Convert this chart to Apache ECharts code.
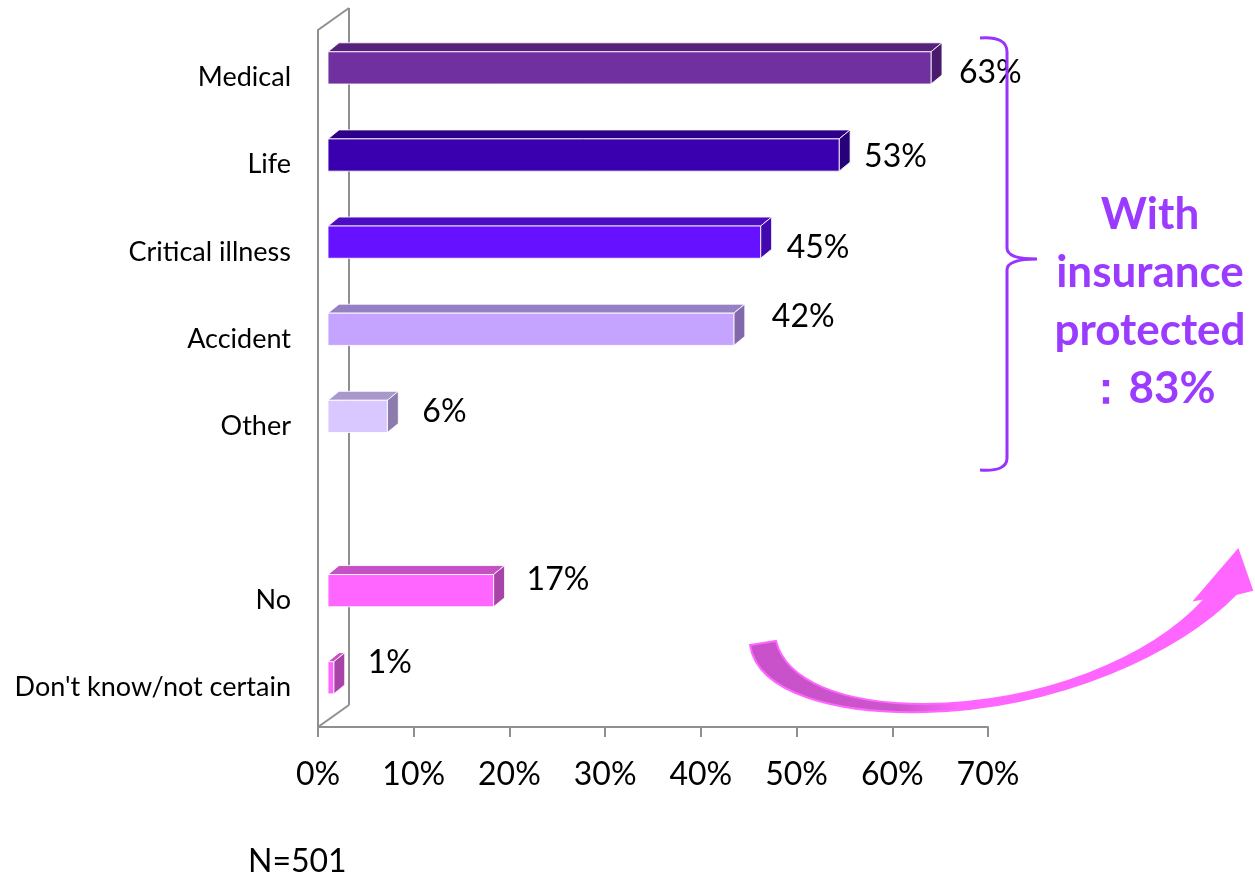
<!DOCTYPE html>
<html>
<head>
<meta charset="utf-8">
<script src="https://cdn.jsdelivr.net/npm/echarts@6/dist/echarts.min.js"></script>
<style>
  html, body { margin: 0; padding: 0; background: #fff; }
  #main { width: 1255px; height: 880px; }
</style>
</head>
<body>
<div id="main"></div>
<script>
// data
var categories = ['Medical', 'Life', 'Critical illness', 'Accident', 'Other', '', 'No', "Don't know/not certain"]
var shares = [63, 53.4, 45.2, 42.4, 6.2, null, 17.3, 0.6]
var shareLabels = ['63%', '53%', '45%', '42%', '6%', '', '17%', '1%']
var xMin = 0
var xMax = 70
var xStep = 10
var sampleNote = 'N=501'
var calloutLines = ['With', 'insurance', 'protected', '：83%']

// styles
var faceColors = ['#7030A0', '#3A00B0', '#6611FF', '#C4A4FF', '#D9C8FF', null, '#FF66FF', '#FF66FF']
var topColors = ['#55217D', '#2D008A', '#4C0CC4', '#9580C4', '#A898CC', null, '#C452C4', '#C452C4']
var sideColors = ['#4A1A6E', '#28007A', '#4208AE', '#8068AA', '#8C7CAE', null, '#A843A8', '#A843A8']
// label nudges (x gap after bar, y relative to slot centre), like the Excel layout
var labelGap = [17, 14, 15, 27, 24, 0, 22, 23]
var labelLift = [-1, -4, 0, -18, -10, 0, -17, -21]

var FONT = 'Lato, "Open Sans", sans-serif'
var gridLeft = 318
var gridTop = 30
var gridRight = 267
var gridBottom = 153
var axisY = 880 - gridBottom
var wallDx = 31
var wallDy = -22
var barDx = 11
var barDy = -9
var gray = '#8f8f8f'

var chart = echarts.init(document.getElementById('main'))

var barData = []
shares.forEach(function (v, i) {
  if (v !== null) barData.push([v, i])
})

function renderBar (params, api) {
  var cat = api.value(1)
  var v = api.value(0)
  var p0 = api.coord([0, cat])
  var p1 = api.coord([v, cat])
  var slot = api.size([0, 1])[1]
  var h = slot * 0.37
  var x0 = p0[0] + 10
  var x1 = p1[0] + 10
  var yT = p0[1] - slot * 0.25
  var yB = yT + h
  var edge = { stroke: 'rgba(255,255,255,0.85)', lineWidth: 1 }
  return {
    type: 'group',
    children: [
      {
        type: 'polygon',
        shape: { points: [[x0, yT], [x1, yT], [x1 + barDx, yT + barDy], [x0 + barDx, yT + barDy]] },
        style: Object.assign({ fill: topColors[cat] }, edge)
      },
      {
        type: 'polygon',
        shape: { points: [[x1, yT], [x1 + barDx, yT + barDy], [x1 + barDx, yB + barDy], [x1, yB]] },
        style: Object.assign({ fill: sideColors[cat] }, edge)
      },
      {
        type: 'rect',
        shape: { x: x0, y: yT, width: x1 - x0, height: h },
        style: Object.assign({ fill: faceColors[cat] }, edge)
      },
      {
        type: 'text',
        style: {
          x: x1 + barDx + labelGap[cat],
          y: p0[1] + labelLift[cat],
          text: shareLabels[cat],
          fill: '#000',
          font: '32px ' + FONT,
          verticalAlign: 'middle'
        }
      }
    ]
  }
}

// brace and curved arrow (annotation shapes, drawn in pixels)
function renderDecor () {
  return {
    type: 'group',
    children: [
      {
        type: 'path',
        shape: {
          pathData: 'M980,38 Q1007,36 1007,52 L1007,248 Q1007,259 1037,259 Q1007,259 1007,270 L1007,458 Q1007,472 980,470'
        },
        style: { fill: null, stroke: '#9933FF', lineWidth: 3 }
      },
      {
        type: 'path',
        shape: {
          pathData: 'M750,645 C758,695 840,714 925,712 C1060,708 1180,652 1236,594 L1252,590 L1238,550 L1195,600 L1206,598 C1150,660 1040,703 925,704 C840,704 786,680 776,641 Z'
        },
        style: {
          stroke: '#FF66FF',
          lineWidth: 2,
          fill: {
            type: 'linear', x: 0, y: 0, x2: 1, y2: 0,
            colorStops: [
              { offset: 0, color: '#C850C8' },
              { offset: 0.3, color: '#CC55CC' },
              { offset: 0.42, color: '#FF66FF' },
              { offset: 1, color: '#FF66FF' }
            ]
          }
        }
      }
    ]
  }
}

chart.setOption({
  animation: false,
  backgroundColor: '#fff',
  grid: { left: gridLeft, top: gridTop, right: gridRight, bottom: gridBottom },
  xAxis: {
    type: 'value',
    min: xMin,
    max: xMax,
    interval: xStep,
    splitLine: { show: false },
    axisLine: { show: true, lineStyle: { color: gray, width: 2 } },
    axisTick: { show: true, length: 10, lineStyle: { color: gray, width: 2 } },
    axisLabel: {
      formatter: '{value}%',
      margin: 32,
      color: '#000',
      fontSize: 32,
      fontFamily: FONT
    }
  },
  yAxis: {
    type: 'category',
    data: categories,
    inverse: true,
    axisLine: { show: true, lineStyle: { color: gray, width: 2 } },
    axisTick: { show: false },
    axisLabel: {
      margin: 27,
      formatter: '{c|{value}}',
      rich: {
        c: {
          color: '#000',
          fontSize: 27,
          fontFamily: FONT,
          padding: [8, 0, 0, 0]
        }
      }
    }
  },
  series: [
    {
      type: 'custom',
      renderItem: renderBar,
      encode: { x: 0, y: 1 },
      data: barData,
      z: 5
    },
    {
      type: 'custom',
      renderItem: renderDecor,
      data: [[0, 0]],
      silent: true,
      z: 6
    }
  ],
  graphic: [
    // 3D wall edges
    {
      type: 'line', z: 1, silent: true,
      shape: { x1: gridLeft + wallDx, y1: gridTop + wallDy, x2: gridLeft + wallDx, y2: axisY + wallDy },
      style: { stroke: gray, lineWidth: 2 }
    },
    {
      type: 'line', z: 1, silent: true,
      shape: { x1: gridLeft, y1: gridTop, x2: gridLeft + wallDx, y2: gridTop + wallDy },
      style: { stroke: gray, lineWidth: 2 }
    },
    {
      type: 'line', z: 1, silent: true,
      shape: { x1: gridLeft, y1: axisY, x2: gridLeft + wallDx, y2: axisY + wallDy },
      style: { stroke: gray, lineWidth: 2 }
    },
    // callout
    {
      type: 'text', z: 10, silent: true,
      style: {
        x: 1150,
        y: 186,
        text: calloutLines.join('\n'),
        align: 'center',
        fill: '#9B3BFF',
        font: 'bold 44px ' + FONT,
        lineHeight: 58
      }
    },
    // sample size
    {
      type: 'text', z: 10, silent: true,
      style: {
        x: 248,
        y: 862,
        text: sampleNote,
        fill: '#000',
        font: '32px ' + FONT,
        verticalAlign: 'middle'
      }
    }
  ]
})
</script>
</body>
</html>
